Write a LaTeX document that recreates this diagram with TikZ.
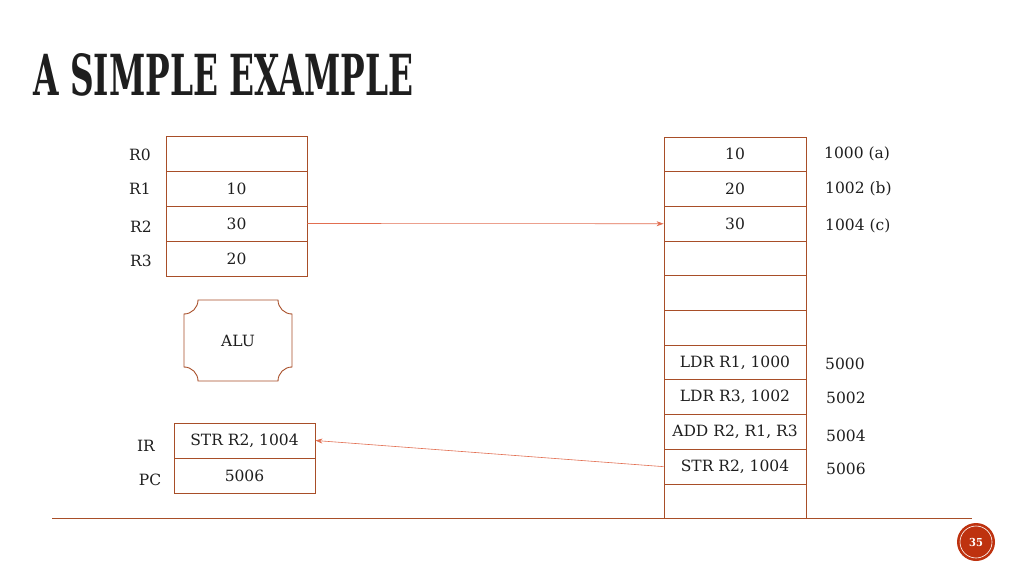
\documentclass[tikz,border=0pt]{standalone}
\usepackage{fontspec}
\setmainfont{DejaVu Serif}
\newfontfamily\titlefont{DejaVu Serif Condensed}
\usetikzlibrary{arrows.meta}
\definecolor{boxc}{RGB}{168,78,40}
\definecolor{arrc}{RGB}{226,110,80}
\definecolor{pgc}{RGB}{190,50,15}
\definecolor{txt}{RGB}{30,30,30}
\begin{document}
\begin{tikzpicture}[x=1pt,y=1pt,
  every node/.style={text=txt,font=\fontsize{15.5}{18}\selectfont},
  cell/.style={draw=boxc,line width=0.9pt,minimum width=141pt,minimum height=35pt,inner sep=0pt},
  mcell/.style={draw=boxc,line width=0.9pt,minimum width=142pt,minimum height=34.7pt,inner sep=0pt},
  lab/.style={inner sep=0pt},
  addr/.style={inner sep=0pt,anchor=west},
  conn/.style={draw=arrc,line width=0.6pt,-{Stealth[length=7pt,width=5pt]}}]
\useasboundingbox (0,0) rectangle (1024,576);
\fill[white] (0,0) rectangle (1024,576);
% title
\node[anchor=south west,inner sep=0pt] (title) at (33,479)
  {\resizebox{380pt}{42pt}{\titlefont\bfseries A SIMPLE EXAMPLE}};
% registers
\node[cell] (r0) at (236.5,422.5) {};
\node[cell] (r1) at (236.5,387.5) {10};
\node[cell] (r2) at (236.5,352.5) {30};
\node[cell] (r3) at (236.5,317.5) {20};
\node[lab] (l0) at (140,421) {R0};
\node[lab] (l1) at (140,387) {R1};
\node[lab] (l2) at (141,349) {R2};
\node[lab] (l3) at (141,315) {R3};
% ALU
\node[minimum width=108pt,minimum height=81pt,inner sep=0pt] (alu) at (238,235.5) {ALU};
\draw[boxc,line width=0.9pt,shift={(alu.center)}]
  (-40,40.5) -- (40,40.5) arc[start angle=180,end angle=270,radius=14]
  -- (54,-26.5) arc[start angle=90,end angle=180,radius=14]
  -- (-40,-40.5) arc[start angle=0,end angle=90,radius=14]
  -- (-54,26.5) arc[start angle=-90,end angle=0,radius=14] -- cycle;
% IR / PC
\node[cell] (ir) at (244.5,135.5) {STR R2, 1004};
\node[cell] (pc) at (244.5,100.5) {5006};
\node[lab] (lir) at (146,130) {IR};
\node[lab] (lpc) at (150,96) {PC};
% memory
\foreach \i/\t in {1/10,2/20,3/30,4/,5/,6/,7/{LDR R1, 1000},8/{LDR R3, 1002},9/{ADD R2, R1, R3},10/{STR R2, 1004},11/}{
  \node[mcell] (m\i) at (735,{576-137-34.7*(\i-0.5)}) {\t};
}
\node[addr] (a1) at (824,422) {1000 (a)};
\node[addr] (a2) at (825,387) {1002 (b)};
\node[addr] (a3) at (825,350) {1004 (c)};
\node[addr] (a7) at (825,212) {5000};
\node[addr] (a8) at (826,178) {5002};
\node[addr] (a9) at (826,140) {5004};
\node[addr] (a10) at (826,107) {5006};
% connectors
\draw[conn] (r2.east) -- (m3.west);
\draw[conn] (m10.west) -- (ir.east);
% footer
\draw[boxc,line width=1pt] (52,58) -- (972,58);
\node[circle,fill=pgc,minimum size=38pt,inner sep=0pt] (pg) at (976,34) {};
\draw[white,line width=0.6pt] (pg.center) circle (16pt);
\node[text=white,inner sep=0pt,font=\titlefont\bfseries\fontsize{11}{12}\selectfont] (pgn) at (pg.center) {35};
\end{tikzpicture}
\end{document}
